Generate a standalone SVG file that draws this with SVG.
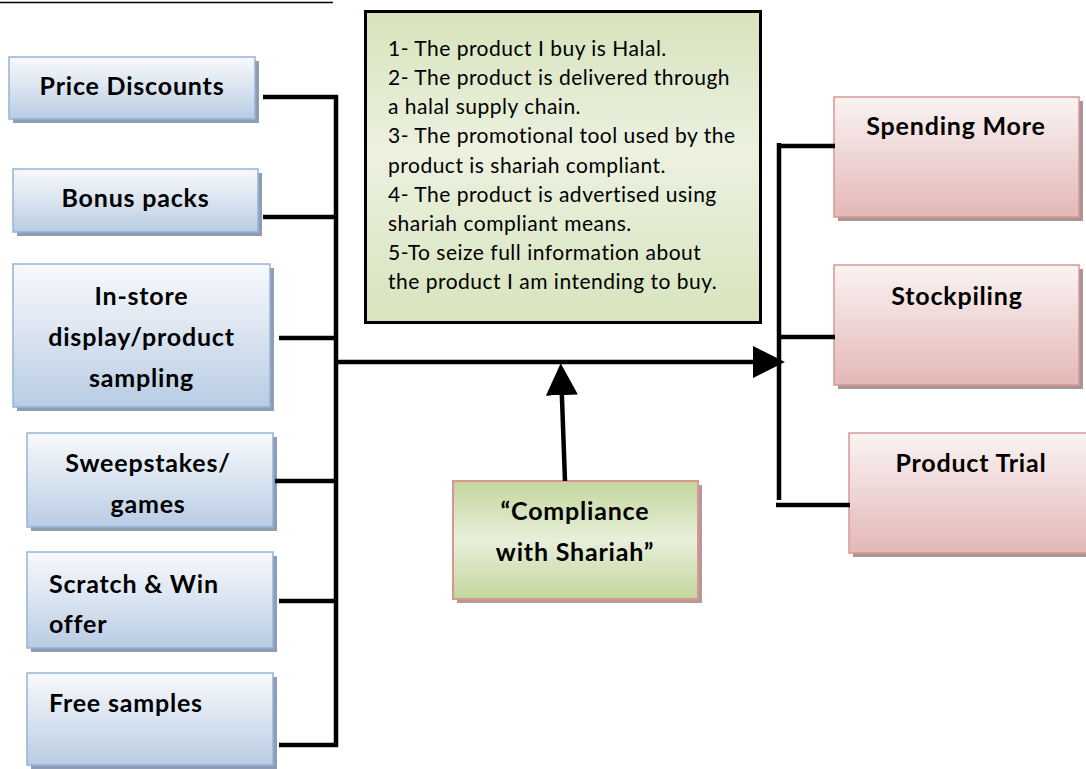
<svg xmlns="http://www.w3.org/2000/svg" width="1086" height="769" viewBox="0 0 1086 769">
<style>
.blue{fill:url(#gBlue);stroke:#95b3d7;stroke-width:1.5}
.bshadow{fill:#8e9db4}
.pink{fill:url(#gPink);stroke:#d99694;stroke-width:1.5}
.pshadow{fill:#a89696}
.lbl{font-family:Lato,"Liberation Sans",sans-serif;font-weight:bold;font-size:25px;letter-spacing:0.8px;fill:#000}
.c{text-anchor:middle}
.body{font-family:Lato,"Liberation Sans",sans-serif;font-size:21px;letter-spacing:0.5px;fill:#000}
.conn line{stroke:#000;stroke-width:4.5;fill:none}
</style>
<defs>
<linearGradient id="gBlue" x1="0" y1="0" x2="0" y2="1">
<stop offset="0" stop-color="#f7f9fc"/>
<stop offset="0.45" stop-color="#dde6f1"/>
<stop offset="1" stop-color="#b8cce4"/>
</linearGradient>
<linearGradient id="gPink" x1="0" y1="0" x2="0" y2="1">
<stop offset="0" stop-color="#fbf3f3"/>
<stop offset="0.45" stop-color="#f0d8d8"/>
<stop offset="1" stop-color="#e4b8b7"/>
</linearGradient>
<linearGradient id="gGreenBig" x1="0" y1="0" x2="0" y2="1">
<stop offset="0" stop-color="#d6e3bc"/>
<stop offset="0.45" stop-color="#ecf1e0"/>
<stop offset="1" stop-color="#d7e4bd"/>
</linearGradient>
<linearGradient id="gGreen" x1="0" y1="0" x2="0" y2="1">
<stop offset="0" stop-color="#c3d69b"/>
<stop offset="0.5" stop-color="#e8efdb"/>
<stop offset="1" stop-color="#c3d69b"/>
</linearGradient>
<marker id="arr" markerUnits="userSpaceOnUse" markerWidth="32" markerHeight="32" refX="2" refY="15" orient="auto" viewBox="0 0 30 30">
<path d="M0,0 L30,15 L0,30 Z" fill="#000"/>
</marker>
</defs>

<line x1="0" y1="2.5" x2="333" y2="2.5" stroke="#000" stroke-width="1.5"/>

<g id="price-discounts">
<rect class="bshadow" x="13" y="61" width="246" height="62"/>
<rect class="blue" x="9" y="57" width="246" height="62"/>
<text class="lbl c" x="132" y="95">Price Discounts</text>
</g>
<g id="bonus-packs">
<rect class="bshadow" x="17" y="173" width="245" height="63"/>
<rect class="blue" x="13" y="169" width="245" height="63"/>
<text class="lbl c" x="135.5" y="207">Bonus packs</text>
</g>
<g id="in-store">
<rect class="bshadow" x="17" y="268" width="257" height="143"/>
<rect class="blue" x="13" y="264" width="257" height="143"/>
<text class="lbl c" x="141.5" y="305">In-store</text>
<text class="lbl c" x="141.5" y="346">display/product</text>
<text class="lbl c" x="141.5" y="387">sampling</text>
</g>
<g id="sweepstakes">
<rect class="bshadow" x="31" y="437" width="246" height="94"/>
<rect class="blue" x="27" y="433" width="246" height="94"/>
<text class="lbl c" x="148" y="472">Sweepstakes/</text>
<text class="lbl c" x="148" y="513">games</text>
</g>
<g id="scratch-win">
<rect class="bshadow" x="31" y="556" width="246" height="96"/>
<rect class="blue" x="27" y="552" width="246" height="96"/>
<text class="lbl" x="49" y="593">Scratch &amp; Win</text>
<text class="lbl" x="49" y="633">offer</text>
</g>
<g id="free-samples">
<rect class="bshadow" x="31" y="677" width="246" height="92"/>
<rect class="blue" x="27" y="673" width="246" height="92"/>
<text class="lbl" x="49" y="712">Free samples</text>
</g>

<g id="criteria">
<rect x="365.5" y="11.5" width="395" height="311" fill="url(#gGreenBig)" stroke="#000" stroke-width="3"/>
<text class="body" x="388" y="56">1- The product I buy is Halal.</text>
<text class="body" x="388" y="85">2- The product is delivered through</text>
<text class="body" x="388" y="114">a halal supply chain.</text>
<text class="body" x="388" y="143">3- The promotional tool used by the</text>
<text class="body" x="388" y="172.5">product is shariah compliant.</text>
<text class="body" x="388" y="201.5">4- The product is advertised using</text>
<text class="body" x="388" y="230.5">shariah compliant means.</text>
<text class="body" x="388" y="259.5">5-To seize full information about</text>
<text class="body" x="388" y="289">the product I am intending to buy.</text>
</g>

<g id="compliance">
<rect x="457" y="485" width="245" height="118" fill="#b59999"/>
<rect x="453" y="481" width="245" height="118" fill="url(#gGreen)" stroke="#d99694" stroke-width="2"/>
<text class="lbl c" x="575" y="520">“Compliance</text>
<text class="lbl c" x="575" y="561">with Shariah”</text>
</g>

<g id="spending-more">
<rect class="pshadow" x="838" y="101" width="245" height="120"/>
<rect class="pink" x="834" y="97" width="245" height="120"/>
<text class="lbl c" x="956" y="135">Spending More</text>
</g>
<g id="stockpiling">
<rect class="pshadow" x="838" y="269" width="245" height="120"/>
<rect class="pink" x="834" y="265" width="245" height="120"/>
<text class="lbl c" x="957" y="305">Stockpiling</text>
</g>
<g id="product-trial">
<rect class="pshadow" x="853" y="437" width="245" height="120"/>
<rect class="pink" x="849" y="433" width="245" height="120"/>
<text class="lbl c" x="971" y="472">Product Trial</text>
</g>

<g id="connectors" class="conn">
<line x1="263" y1="97" x2="338" y2="97"/>
<line x1="263" y1="217" x2="338" y2="217"/>
<line x1="279" y1="338" x2="338" y2="338"/>
<line x1="275" y1="481" x2="338" y2="481"/>
<line x1="279" y1="601" x2="338" y2="601"/>
<line x1="279" y1="745" x2="338" y2="745"/>
<line x1="336" y1="95" x2="336" y2="747"/>
<line x1="336" y1="362" x2="755" y2="362" marker-end="url(#arr)"/>
<line x1="565" y1="481" x2="561.8" y2="393" marker-end="url(#arr)"/>
<line x1="779" y1="143" x2="779" y2="500"/>
<line x1="777" y1="146" x2="835" y2="146"/>
<line x1="777" y1="337" x2="835" y2="337"/>
<line x1="776" y1="505" x2="850" y2="505"/>
</g>
</svg>
